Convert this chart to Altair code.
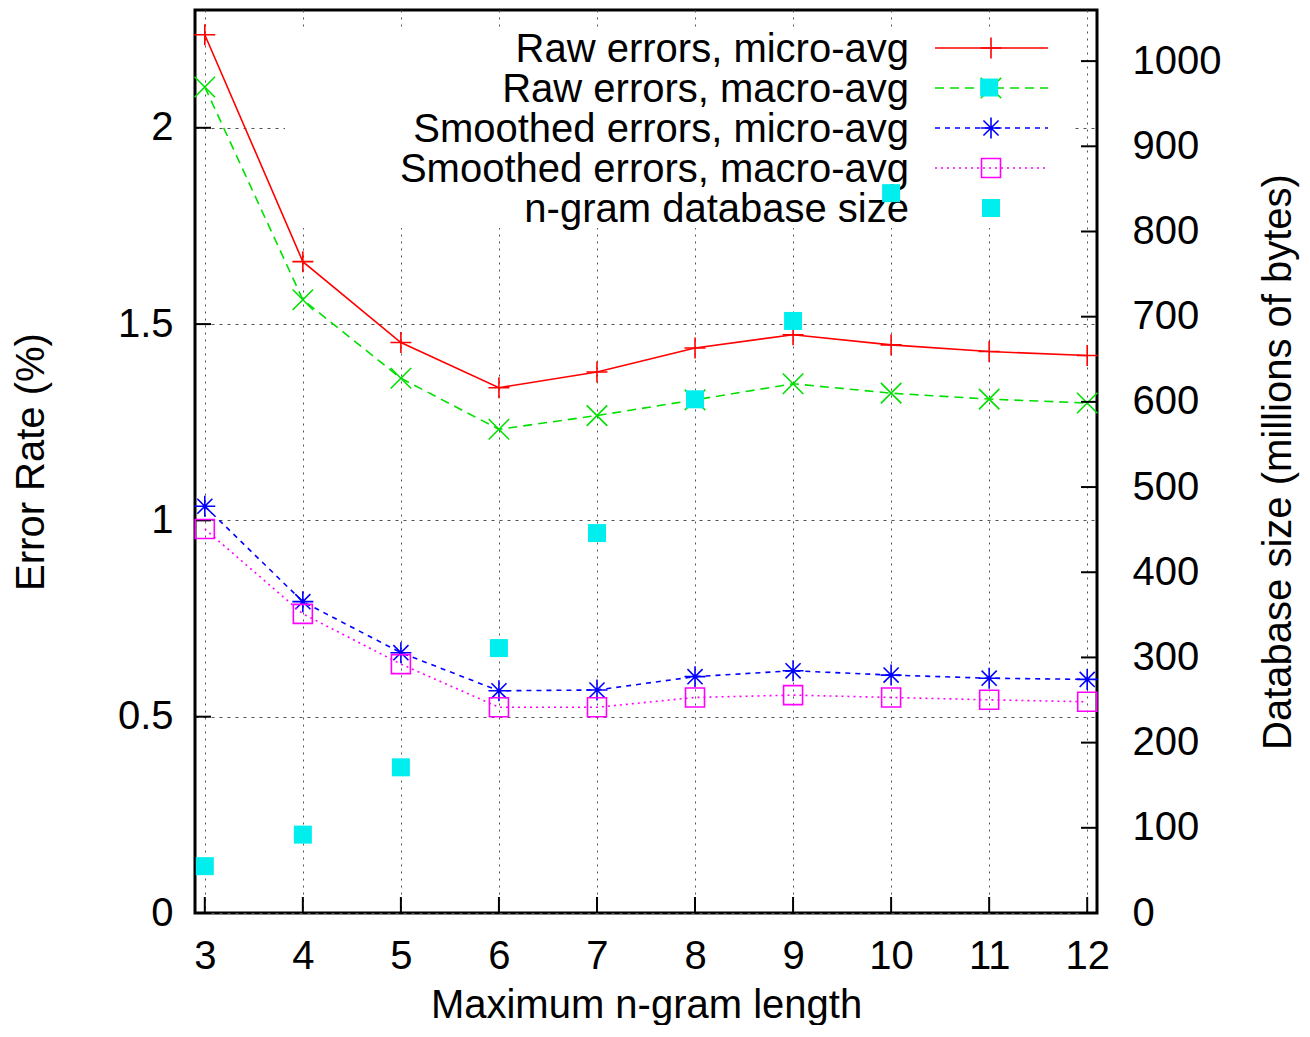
import altair as alt
import pandas as pd

# ---------------- data ----------------
ngram = [3, 4, 5, 6, 7, 8, 9, 10, 11, 12]
raw_micro = [2.237, 1.659, 1.453, 1.338, 1.378, 1.439, 1.473, 1.447, 1.430, 1.420]
raw_macro = [2.104, 1.562, 1.362, 1.232, 1.267, 1.307, 1.348, 1.324, 1.309, 1.299]
smooth_micro = [1.036, 0.793, 0.663, 0.566, 0.568, 0.602, 0.617, 0.606, 0.598, 0.595]
smooth_macro = [0.978, 0.762, 0.634, 0.524, 0.524, 0.549, 0.555, 0.549, 0.543, 0.538]
db_ngram = [3, 4, 5, 6, 7, 8, 9, 10, 11]
db_size = [55, 92, 171, 311, 446, 603, 695, 845, 969]

series_names = ["Raw errors, micro-avg", "Raw errors, macro-avg",
                "Smoothed errors, micro-avg", "Smoothed errors, macro-avg"]
db_name = "n-gram database size"

x_ticks = [3, 4, 5, 6, 7, 8, 9, 10, 11, 12]
y_ticks = [0, 0.5, 1, 1.5, 2]
y2_ticks = [0, 100, 200, 300, 400, 500, 600, 700, 800, 900, 1000]

# ---------------- styles ----------------
FONT = "Liberation Sans"
FS = 40
W, H = 902, 903
colors = ["#ff0000", "#00e000", "#0000ff", "#ff00ff"]
db_color = "#00eeee"
dashes = [None, [9, 6], [5, 5], [2, 4]]
PLUS = "M-1,0L1,0M0,-1L0,1"
CROSS = "M-1,-1L1,1M-1,1L1,-1"
STAR = "M-1,0L1,0M0,-1L0,1M-0.72,-0.72L0.72,0.72M-0.72,0.72L0.72,-0.72"
shapes = [PLUS, CROSS, STAR, "square"]
sizes = [440, 420, 440, 361]

xscale = alt.Scale(domain=[2.9, 12.1], nice=False, zero=False)
yscale = alt.Scale(domain=[0, 2.3], nice=False, zero=False)
y2scale = alt.Scale(domain=[0, 1060], nice=False, zero=False)

x_axis = alt.Axis(values=x_ticks, format="d", grid=True, gridColor="#555555", gridDash=[2, 5],
                  gridWidth=1, gridOpacity=1, ticks=False, domain=False,
                  labelFont=FONT, labelFontSize=FS, labelColor="black", labelPadding=23,
                  labelFlush=False, labelOverlap=False,
                  title="Maximum n-gram length", titleFont=FONT, titleFontSize=FS,
                  titleFontWeight="normal", titleColor="black",
                  titleX=W / 2, titleY=92, titleAlign="center", titleBaseline="middle")
y_axis = alt.Axis(values=y_ticks, format="~g", grid=True, gridColor="#555555",
                  gridDash=[3, 5], gridWidth=1, gridOpacity=1, ticks=False, domain=False,
                  labelFont=FONT, labelFontSize=FS, labelColor="black", labelPadding=22,
                  labelOverlap=False, labelFlush=False,
                  title="Error Rate (%)", titleFont=FONT, titleFontSize=FS,
                  titleFontWeight="normal", titleColor="black", titleAngle=270,
                  titleX=-164, titleY=H / 2, titleAlign="center", titleBaseline="middle")
y2_axis = alt.Axis(orient="right", values=y2_ticks, format="d", grid=False, ticks=False,
                   domain=False,
                   labelFont=FONT, labelFontSize=FS, labelColor="black", labelPadding=35,
                   labelAlign="left", labelOverlap=False, labelFlush=False,
                   title="Database size (millions of bytes)", titleFont=FONT,
                   titleFontSize=FS, titleFontWeight="normal", titleColor="black",
                   titleAngle=270, titleX=181, titleY=H / 2, titleAlign="center",
                   titleBaseline="middle")


def X(field):
    return alt.X(field, scale=xscale, axis=x_axis)


def Y(field):
    return alt.Y(field, scale=yscale, axis=y_axis)


def Y2(field):
    return alt.Y(field, scale=y2scale, axis=y2_axis)


# ---------------- left (error-rate) layers ----------------
err_df = pd.DataFrame({
    "n": ngram,
    series_names[0]: raw_micro,
    series_names[1]: raw_macro,
    series_names[2]: smooth_micro,
    series_names[3]: smooth_macro,
})

left_layers = []
tick_x = alt.Chart(pd.DataFrame({"n": x_ticks})).mark_rule(color="black", strokeWidth=2).encode(
    x=X("n:Q"), y=alt.value(H - 16), y2=alt.value(H))
left_layers.append(tick_x)
tick_y = alt.Chart(pd.DataFrame({"v": y_ticks})).mark_rule(color="black", strokeWidth=2).encode(
    y=Y("v:Q"), x=alt.value(0), x2=alt.value(16))
left_layers.append(tick_y)

for i, name in enumerate(series_names):
    base = alt.Chart(err_df).transform_calculate(val=f"datum['{name}']")
    line_kw = dict(color=colors[i], strokeWidth=1.6)
    if dashes[i] is not None:
        line_kw["strokeDash"] = dashes[i]
    line = base.mark_line(**line_kw).encode(x=X("n:Q"), y=Y("val:Q"))
    pts = base.mark_point(shape=shapes[i], size=sizes[i], color=colors[i], filled=False,
                          strokeWidth=1.6, opacity=1).encode(x=X("n:Q"), y=Y("val:Q"))
    left_layers += [line, pts]

left = alt.layer(*left_layers)

# ---------------- right (database size) layers ----------------
tick_y2 = alt.Chart(pd.DataFrame({"v": y2_ticks})).mark_rule(color="black", strokeWidth=2).encode(
    y=Y2("v:Q"), x=alt.value(W - 16), x2=alt.value(W))
db_pts = alt.Chart(pd.DataFrame({"n": db_ngram, "size": db_size})).mark_point(
    shape="square", size=324, filled=True, color=db_color, opacity=1).encode(
    x=X("n:Q"), y=Y2("size:Q"))
right = alt.layer(tick_y2, db_pts)

# ---------------- manual key (gnuplot style) ----------------
one = pd.DataFrame({"k": [0]})
key_bg = alt.Chart(one).mark_rect(color="white").encode(
    x=alt.value(90), x2=alt.value(878), y=alt.value(18), y2=alt.value(218))

key_layers = [key_bg]
labels = series_names + [db_name]
for i, lab in enumerate(labels):
    row = 38 + 40 * i
    key_layers.append(alt.Chart(pd.DataFrame({"t": [lab]})).mark_text(
        align="right", baseline="alphabetic", font=FONT, fontSize=FS, color="black").encode(
        x=alt.value(714), y=alt.value(row + 14), text="t:N"))
    if i < 4:
        rk = dict(color=colors[i], strokeWidth=1.6)
        if dashes[i] is not None:
            rk["strokeDash"] = dashes[i]
        key_layers.append(alt.Chart(one).mark_rule(**rk).encode(
            x=alt.value(740), x2=alt.value(853), y=alt.value(row)))
        key_layers.append(alt.Chart(one).mark_point(
            shape=shapes[i], size=sizes[i], color=colors[i], filled=False,
            strokeWidth=1.6, opacity=1).encode(x=alt.value(796), y=alt.value(row)))
    else:
        key_layers.append(alt.Chart(one).mark_point(
            shape="square", size=324, filled=True, color=db_color, opacity=1).encode(
            x=alt.value(796), y=alt.value(row)))

chart = alt.layer(*key_layers, left, right).resolve_scale(y="independent").properties(
    width=W, height=H,
    autosize=alt.AutoSizeParams(type="none"),
    padding={"left": 187, "top": 2, "right": 205, "bottom": 112},
    background="white",
).configure_view(stroke="black", strokeWidth=3)

chart.save("out.html", embed_options={"renderer": "svg", "actions": False})
